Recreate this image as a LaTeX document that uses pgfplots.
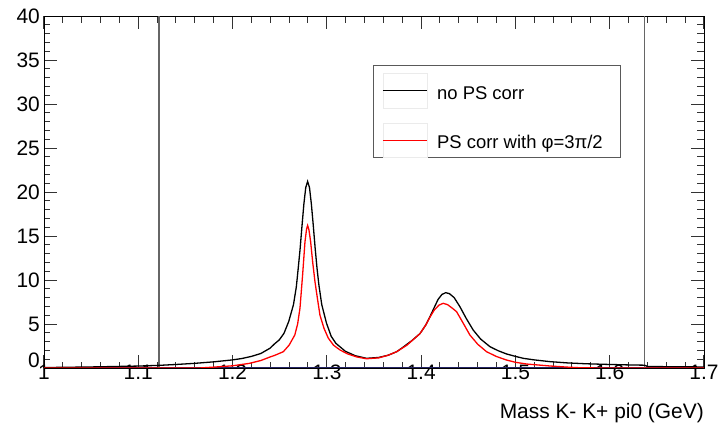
\documentclass[border=0pt]{standalone}
\usepackage{fontspec}
\setmainfont{Liberation Sans}
\usepackage{pgfplots}
\pgfplotsset{compat=1.18}
\definecolor{navy}{RGB}{35,35,100}
\begin{document}
\begin{tikzpicture}
\begin{axis}[
  scale only axis, width=660bp, height=352bp,
  xmin=1, xmax=1.7, ymin=0, ymax=40,
  xtick={1,1.1,1.2,1.3,1.4,1.5,1.6,1.7},
  xticklabels={1,1.1,1.2,1.3,1.4,1.5,1.6,1.7},
  ytick={0,5,10,15,20,25,30,35,40},
  yticklabels={\raisebox{8bp}[\height][\depth]{0},5,10,15,20,25,30,35,40},
  minor x tick num=4, minor y tick num=4,
  tick align=inside,
  major tick length=13bp, minor tick length=6.5bp,
  every tick/.append style={black!80, line width=1bp},
  ticklabel style={font=\fontsize{21}{24}\selectfont},
  /pgf/number format/assume math mode=true,
  xticklabel style={inner sep=0pt, yshift=3bp},
  yticklabel style={inner sep=0pt, xshift=-4bp},
  xlabel={Mass K- K+ pi0 (GeV)},
  xlabel style={at={(rel axis cs:1,0)}, anchor=north east, inner sep=0pt, yshift=-35bp, font=\fontsize{21}{24}\selectfont},
]
\coordinate (o) at (rel axis cs:0,0);
\addplot[navy, line width=1.2bp] coordinates {(1,0) (1.7,0)};
\addplot[black!60, line width=1.1bp] coordinates {(1.122,0) (1.122,40)};
\addplot[black!60, line width=1.1bp] coordinates {(1.637,0) (1.637,40)};

\addplot[black, line width=1.3bp] coordinates {
(1.000,0.05) (1.050,0.12) (1.100,0.22) (1.122,0.30) (1.140,0.40) (1.160,0.53)
(1.180,0.70) (1.200,0.92) (1.210,1.08) (1.220,1.32) (1.230,1.65) (1.2396,2.24)
(1.2446,2.75) (1.2496,3.2) (1.2546,3.95) (1.2596,5.3) (1.2646,7.2) (1.2676,9.2)
(1.2696,11.3) (1.2716,13.5) (1.2736,16.1) (1.2756,18.6) (1.2776,20.5) (1.2796,21.2)
(1.2816,20.5) (1.2836,18.6) (1.2856,16.2) (1.2876,13.6) (1.2896,11.3) (1.2916,9.4)
(1.2946,7.2) (1.2996,5.1) (1.3046,3.6) (1.3096,2.8) (1.3196,1.9) (1.330,1.40)
(1.342,1.10) (1.355,1.20) (1.365,1.45) (1.374,1.85) (1.380,2.3) (1.390,3.1)
(1.3987,3.9) (1.405,4.9) (1.4092,5.8) (1.414,6.9) (1.418,7.8) (1.422,8.35)
(1.426,8.56) (1.430,8.45) (1.435,8.0) (1.4411,6.97) (1.448,5.6) (1.4553,4.3)
(1.463,3.3) (1.473,2.42) (1.482,1.95) (1.4907,1.59) (1.500,1.32) (1.5083,1.10)
(1.520,0.92) (1.537,0.72) (1.555,0.58) (1.575,0.48) (1.600,0.40) (1.620,0.35)
(1.637,0.32) (1.640,0.17) (1.670,0.14) (1.700,0.12)
};

\addplot[red, line width=1.3bp] coordinates {
(1.000,0) (1.165,0) (1.180,0.10) (1.200,0.25) (1.218,0.53) (1.230,0.85)
(1.2397,1.25) (1.245,1.45) (1.2538,1.85) (1.260,2.6) (1.266,3.75) (1.269,5.0)
(1.2715,6.8) (1.2743,10.6) (1.2768,14.35) (1.2785,15.8) (1.2796,16.2) (1.281,15.7)
(1.2828,14.35) (1.2850,12.0) (1.2874,9.8) (1.290,7.9) (1.2927,6.0) (1.297,4.5)
(1.3015,3.4) (1.307,2.6) (1.3139,2.05) (1.322,1.6) (1.332,1.25) (1.342,1.05)
(1.355,1.15) (1.365,1.45) (1.374,1.85) (1.385,2.6) (1.3987,3.9) (1.405,4.9)
(1.4092,5.75) (1.414,6.6) (1.419,7.15) (1.4234,7.35) (1.428,7.2) (1.433,6.8)
(1.4376,6.4) (1.4451,5.0) (1.4517,3.75) (1.460,2.7) (1.4694,1.85) (1.480,1.3)
(1.4907,0.9) (1.500,0.65) (1.512,0.45) (1.5365,0.23) (1.555,0.10) (1.570,0.02)
(1.600,0) (1.700,0)
};

% legend box
\draw[black!65, line width=0.8bp, fill=white] (axis cs:1.349,34.4) rectangle (axis cs:1.611,23.9);
\draw[black!8, line width=0.5bp] (axis cs:1.3595,33.52) rectangle (axis cs:1.4061,29.55);
\draw[black!8, line width=0.5bp] (axis cs:1.3595,27.84) rectangle (axis cs:1.4061,23.95);
\draw[black, line width=1.3bp] (axis cs:1.3595,31.53) -- (axis cs:1.4061,31.53);
\draw[red, line width=1.3bp] (axis cs:1.3595,25.85) -- (axis cs:1.4061,25.85);
\node[anchor=base west, inner sep=0pt, font=\fontsize{18.5}{21}\selectfont] at (axis cs:1.4168,30.5) {no PS corr};
\node[anchor=base west, inner sep=0pt, font=\fontsize{18.5}{21}\selectfont] at (axis cs:1.4168,24.93) {PS corr with φ=3π/2};
\end{axis}
\pgfresetboundingbox
\path[use as bounding box] ([xshift=-44bp,yshift=-56bp]o) rectangle ++(722bp,424bp);
\end{tikzpicture}
\end{document}
